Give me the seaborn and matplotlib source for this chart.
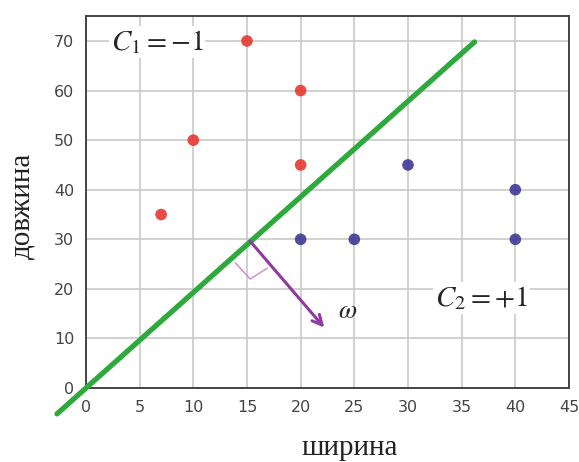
import matplotlib
matplotlib.use("Agg")
import matplotlib.pyplot as plt
import seaborn as sns
import pandas as pd

# Class C1 = -1 (red) and class C2 = +1 (blue)
red_x = [7, 10, 15, 20, 20]
red_y = [35, 50, 70, 60, 45]
blue_x = [20, 25, 30, 40, 40]
blue_y = [30, 30, 45, 40, 30]

# Separating line and normal vector omega
line_x = [-2.7, 36.2]
line_y = [-5.2, 69.8]
omega_start = (15.3, 29.6)
omega_end = (22.2, 12.2)

x_ticks = [0, 5, 10, 15, 20, 25, 30, 35, 40, 45]
y_ticks = [0, 10, 20, 30, 40, 50, 60, 70]

df = pd.DataFrame({
    "ширина": red_x + blue_x,
    "довжина": red_y + blue_y,
    "class": ["C1"] * len(red_x) + ["C2"] * len(blue_x),
})

sns.set_style("white")
plt.rcParams["font.family"] = ["DejaVu Sans"]

fig = plt.figure(figsize=(5.79, 4.62), dpi=100)
ax = fig.add_axes([0.1485, 0.160, 0.8342, 0.805])

ax.set_xlim(0, 45)
ax.set_ylim(0, 75)
ax.set_xticks(x_ticks)
ax.set_yticks(y_ticks)
ax.grid(True, color="#c9c9c9", linewidth=1.2, zorder=0)
ax.set_axisbelow(True)

sns.scatterplot(data=df, x="ширина", y="довжина", hue="class",
                palette={"C1": "#e8332b", "C2": "#3b3492"},
                s=70, alpha=0.88, edgecolor="none", legend=False,
                ax=ax, zorder=3)

ax.plot(line_x, line_y, color="#2eaa3c", linewidth=3.8,
        solid_capstyle="round", clip_on=False, zorder=4)

ax.annotate("", xy=omega_end, xytext=omega_start,
            arrowprops=dict(arrowstyle="->,head_length=0.7,head_width=0.35",
                            color="#8e3aa0", lw=2.2, shrinkA=0, shrinkB=0),
            zorder=5)

# right-angle marker between line and omega
ra_x = [13.9, 15.3, 16.9]
ra_y = [25.3, 22.0, 24.2]
ax.plot(ra_x, ra_y, color="#c58bd0", linewidth=1.0, zorder=4)

serif = ["Liberation Serif", "DejaVu Serif"]
ax.text(2.3, 69.8, r"$C_1=-1$", fontsize=21, family=serif, va="center",
        ha="left", math_fontfamily="stix",
        bbox=dict(facecolor="white", edgecolor="none", pad=1.5), zorder=6)
ax.text(32.5, 18.2, r"$C_2=+1$", fontsize=21, family=serif, va="center",
        ha="left", math_fontfamily="stix",
        bbox=dict(facecolor="white", edgecolor="none", pad=1.5), zorder=6)
ax.text(23.5, 15.5, r"$\omega$", fontsize=19, va="center", ha="left",
        math_fontfamily="stix", zorder=6)

ax.set_xlabel("ширина", family=serif, fontsize=21, color="#222222")
ax.set_ylabel("довжина", family=serif, fontsize=21, color="#222222")
ax.xaxis.set_label_coords(0.547, -0.125)
ax.yaxis.set_label_coords(-0.104, 0.49)

ax.tick_params(axis="both", direction="out", length=5, width=1.2,
               color="#444444", labelsize=11.5, labelcolor="#444444")
for sp in ax.spines.values():
    sp.set_visible(True)
    sp.set_color("#444444")
    sp.set_linewidth(1.4)

fig.savefig("out.png", dpi=100, facecolor="white")
